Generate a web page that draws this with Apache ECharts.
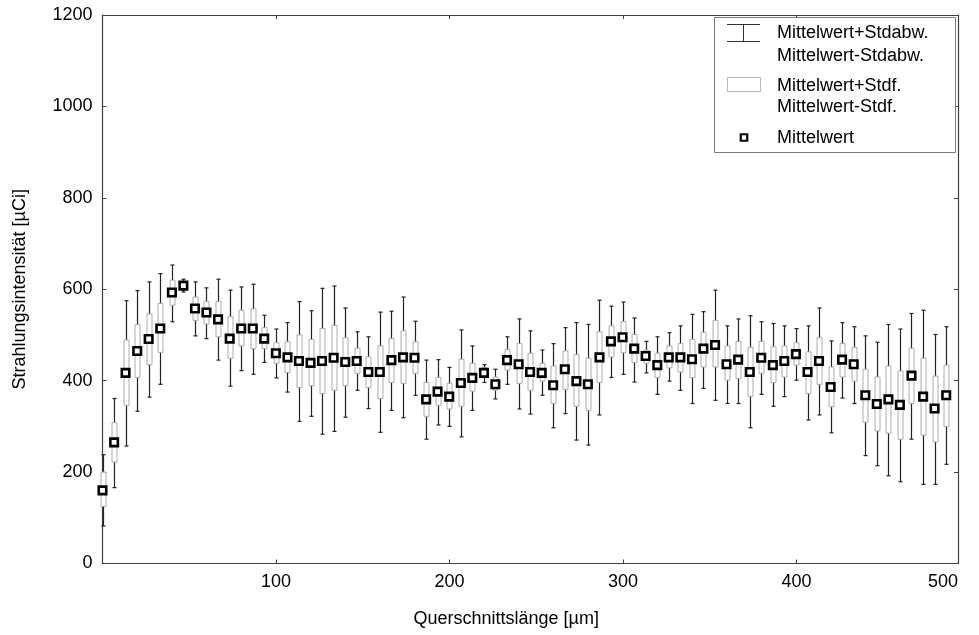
<!DOCTYPE html>
<html><head><meta charset="utf-8">
<script src="https://cdn.jsdelivr.net/npm/echarts@6/dist/echarts.min.js"></script>
<style>html,body{margin:0;padding:0;background:#fff}#c{width:979px;height:635px}</style>
</head><body><div id="c"></div>
<script>
// Querschnittslänge [µm]
const xValues = [0, 6.7, 13.3, 20.0, 26.6, 33.3, 40.0, 46.6, 53.3, 59.9, 66.6, 73.3, 79.9, 86.6, 93.2, 99.9, 106.6, 113.2, 119.9, 126.5,
  133.2, 139.9, 146.5, 153.2, 159.8, 166.5, 173.2, 179.8, 186.5, 193.1, 199.8, 206.5, 213.1, 219.8, 226.4, 233.1, 239.8, 246.4, 253.1, 259.7,
  266.4, 273.1, 279.7, 286.4, 293.0, 299.7, 306.4, 313.0, 319.7, 326.3, 333.0, 339.7, 346.3, 353.0, 359.6, 366.3, 373.0, 379.6, 386.3, 392.9,
  399.6, 406.3, 412.9, 419.6, 426.2, 432.9, 439.6, 446.2, 452.9, 459.5, 466.2, 472.9, 479.5, 486.2];
// Mittelwert
const means = [160, 265, 417, 465, 491, 514, 593, 608, 558, 549, 534, 492, 514, 514, 492, 460, 451, 443, 439, 443,
  450, 441, 443, 419, 419, 445, 451, 450, 359, 376, 365, 395, 406, 417, 392, 445, 436, 419, 417, 390,
  425, 399, 392, 451, 486, 495, 470, 454, 434, 451, 451, 447, 470, 478, 436, 446, 419, 450, 434, 443,
  458, 419, 443, 386, 446, 436, 368, 349, 359, 347, 411, 365, 339, 368];
// Mittelwert+Stdf. / Mittelwert-Stdf.
const seHigh = [200, 308, 489, 523, 546, 569, 620, 615, 583, 573, 573, 540, 554, 557, 516, 483, 485, 500, 490, 514,
  521, 494, 471, 452, 476, 492, 509, 485, 396, 407, 394, 447, 438, 429, 408, 468, 481, 460, 438, 432,
  465, 457, 449, 507, 520, 529, 501, 467, 460, 476, 481, 490, 506, 532, 476, 486, 473, 486, 474, 476,
  483, 463, 494, 430, 481, 473, 425, 408, 432, 421, 471, 449, 410, 434];
const seLow = [125, 222, 346, 407, 435, 462, 565, 600, 532, 524, 496, 449, 476, 470, 470, 438, 418, 385, 389, 372,
  379, 389, 416, 385, 361, 396, 394, 416, 322, 346, 338, 344, 377, 409, 379, 423, 394, 379, 399, 350,
  381, 344, 335, 396, 452, 461, 440, 438, 407, 428, 419, 407, 430, 430, 401, 405, 366, 416, 396, 408,
  434, 372, 392, 343, 408, 399, 309, 290, 285, 272, 350, 281, 266, 300];
// Mittelwert+Stdabw. / Mittelwert-Stdabw.
const sdHigh = [238, 361, 575, 597, 616, 634, 653, 622, 616, 603, 622, 598, 605, 611, 543, 513, 527, 573, 553, 602,
  607, 559, 507, 496, 550, 552, 583, 530, 445, 446, 429, 511, 476, 435, 425, 496, 535, 509, 467, 481,
  516, 527, 523, 576, 563, 572, 537, 486, 496, 505, 520, 545, 551, 598, 520, 535, 542, 529, 525, 520,
  514, 520, 559, 487, 527, 518, 498, 484, 523, 513, 547, 554, 501, 518];
const sdLow = [82, 166, 257, 333, 364, 392, 529, 594, 498, 492, 445, 388, 422, 414, 440, 406, 375, 311, 322, 283,
  289, 320, 379, 339, 287, 335, 319, 368, 272, 303, 300, 277, 335, 396, 360, 392, 338, 327, 368, 297,
  328, 270, 259, 325, 407, 414, 397, 417, 370, 399, 379, 350, 383, 357, 350, 350, 297, 370, 344, 365,
  401, 314, 325, 286, 362, 350, 236, 214, 192, 179, 272, 173, 173, 217];

const xTickLabels = ['100', '200', '300', '400', '500'];
const xName = 'Querschnittslänge [µm]';
const yName = 'Strahlungsintensität [µCi]';
const legendTexts = ['Mittelwert+Stdabw.', 'Mittelwert-Stdabw.', 'Mittelwert+Stdf.', 'Mittelwert-Stdf.', 'Mittelwert'];

const X_MAX = 493;
const FONT = "'Liberation Sans', Arial, sans-serif";
const AXIS_COLOR = '#404040';

const errData = xValues.map((x, i) => [x, seHigh[i], seLow[i], sdHigh[i], sdLow[i]]);
const meanData = xValues.map((x, i) => [x, means[i]]);

function xLabel(v) {
  if (v >= X_MAX - 0.5) return xTickLabels[xTickLabels.length - 1];
  const idx = Math.round(v / 100) - 1;
  return idx >= 0 && idx < xTickLabels.length ? xTickLabels[idx] : '';
}

const baseAxis = {
  axisLine: { show: true, onZero: false, lineStyle: { color: AXIS_COLOR, width: 1.2 } },
  axisTick: { show: true, inside: true, length: 4, lineStyle: { color: AXIS_COLOR, width: 1 } },
  splitLine: { show: false }
};

const chart = echarts.init(document.getElementById('c'), null, { renderer: 'canvas' });
chart.setOption({
  backgroundColor: '#fff',
  animation: false,
  grid: { left: 102.5, right: 21, top: 15, bottom: 71.5, containLabel: false },
  xAxis: [
    Object.assign({}, baseAxis, {
      type: 'value', position: 'bottom', min: 0, max: X_MAX, interval: 100,
      axisLabel: { show: true, fontSize: 18, fontFamily: FONT, color: '#000', margin: 10,
        showMinLabel: false, showMaxLabel: true, alignMaxLabel: 'right', formatter: xLabel },
      name: xName, nameLocation: 'middle', nameGap: 47,
      nameTextStyle: { fontSize: 18, fontFamily: FONT, color: '#000', padding: [0, 48, 0, 0] }
    }),
    Object.assign({}, baseAxis, {
      type: 'value', position: 'top', min: 0, max: X_MAX, interval: 100,
      axisLabel: { show: false }
    })
  ],
  yAxis: [
    Object.assign({}, baseAxis, {
      type: 'value', position: 'left', min: 0, max: 1200, interval: 200,
      axisLabel: { show: true, fontSize: 18, fontFamily: FONT, color: '#000', margin: 10,
        formatter: function (v) { return String(v); } },
      name: yName, nameLocation: 'middle', nameGap: 73, nameRotate: 90,
      nameTextStyle: { fontSize: 18, fontFamily: FONT, color: '#000' }
    }),
    Object.assign({}, baseAxis, {
      type: 'value', position: 'right', min: 0, max: 1200, interval: 200,
      axisLabel: { show: false }
    })
  ],
  series: [
    {
      type: 'custom',
      name: 'Fehler',
      xAxisIndex: 0, yAxisIndex: 0,
      clip: false,
      data: errData,
      encode: { x: 0, y: [1, 2, 3, 4] },
      renderItem: function (params, api) {
        const x = api.value(0);
        const pTop = api.coord([x, api.value(3)]);
        const pBot = api.coord([x, api.value(4)]);
        const bTop = api.coord([x, api.value(1)]);
        const bBot = api.coord([x, api.value(2)]);
        const cx = Math.round(pTop[0]) + 0.5;
        const cap = 2;
        const lineStyle = { stroke: '#222', lineWidth: 1.2 };
        return {
          type: 'group',
          children: [
            { type: 'line', shape: { x1: cx, y1: pTop[1], x2: cx, y2: pBot[1] }, style: lineStyle },
            { type: 'line', shape: { x1: cx - cap, y1: pTop[1], x2: cx + cap, y2: pTop[1] }, style: lineStyle },
            { type: 'line', shape: { x1: cx - cap, y1: pBot[1], x2: cx + cap, y2: pBot[1] }, style: lineStyle },
            { type: 'rect', shape: { x: cx - 2.5, y: bTop[1], width: 5, height: bBot[1] - bTop[1] },
              style: { fill: '#fff', stroke: '#acacac', lineWidth: 1 } }
          ]
        };
      },
      z: 2
    },
    {
      type: 'scatter',
      name: 'Mittelwert',
      xAxisIndex: 0, yAxisIndex: 0,
      data: meanData,
      symbol: 'rect',
      symbolSize: 7.5,
      itemStyle: { color: '#fff', borderColor: '#000', borderWidth: 2.6, opacity: 1 },
      emphasis: { disabled: true },
      z: 3
    }
  ],
  graphic: [
    { type: 'rect', z: 10, shape: { x: 714.5, y: 17.5, width: 241, height: 135 },
      style: { fill: '#fff', stroke: '#7a7a7a', lineWidth: 1 } },
    // I-beam icon
    { type: 'line', z: 11, shape: { x1: 727, y1: 24.5, x2: 760, y2: 24.5 }, style: { stroke: '#333', lineWidth: 1 } },
    { type: 'line', z: 11, shape: { x1: 727, y1: 41.5, x2: 760, y2: 41.5 }, style: { stroke: '#333', lineWidth: 1 } },
    { type: 'line', z: 11, shape: { x1: 743.5, y1: 24.5, x2: 743.5, y2: 41.5 }, style: { stroke: '#333', lineWidth: 1 } },
    // box icon
    { type: 'rect', z: 11, shape: { x: 727.5, y: 77.5, width: 33, height: 14 },
      style: { fill: '#fff', stroke: '#b8b8b8', lineWidth: 1 } },
    // mean marker icon
    { type: 'rect', z: 11, shape: { x: 740.75, y: 134.25, width: 6.5, height: 6.5 },
      style: { fill: '#fff', stroke: '#000', lineWidth: 2.2 } },
    { type: 'text', z: 11, x: 777, y: 33, style: { text: legendTexts[0], font: '18px ' + FONT, fill: '#000', verticalAlign: 'middle' } },
    { type: 'text', z: 11, x: 777, y: 56, style: { text: legendTexts[1], font: '18px ' + FONT, fill: '#000', verticalAlign: 'middle' } },
    { type: 'text', z: 11, x: 777, y: 86, style: { text: legendTexts[2], font: '18px ' + FONT, fill: '#000', verticalAlign: 'middle' } },
    { type: 'text', z: 11, x: 777, y: 107, style: { text: legendTexts[3], font: '18px ' + FONT, fill: '#000', verticalAlign: 'middle' } },
    { type: 'text', z: 11, x: 777, y: 138, style: { text: legendTexts[4], font: '18px ' + FONT, fill: '#000', verticalAlign: 'middle' } }
  ]
});
</script>
</body></html>
